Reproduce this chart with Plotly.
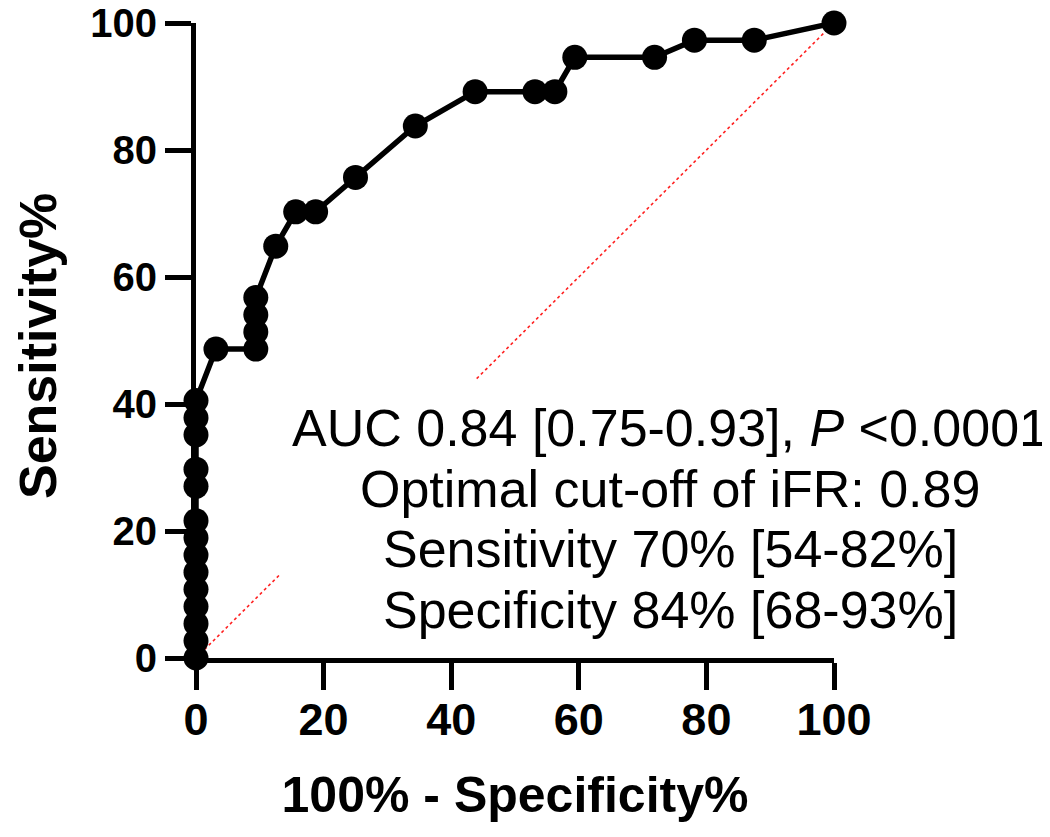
import plotly.graph_objects as go

# ROC curve data (100% - Specificity%, Sensitivity%)
fpr = [0, 0, 0, 0, 0, 0, 0, 0, 0, 0, 0, 0, 0, 0,
       3.125, 9.375, 9.375, 9.375, 9.375, 12.5, 15.625, 18.75, 25.0,
       34.375, 43.75, 53.125, 56.25, 59.375, 71.875, 78.125, 87.5, 100]
tpr = [0, 2.70, 5.41, 8.11, 10.81, 13.51, 16.22, 18.92, 21.62, 27.03, 29.73, 35.14, 37.84, 40.54,
       48.65, 48.65, 51.35, 54.05, 56.76, 64.86, 70.27, 70.27, 75.68,
       83.78, 89.19, 89.19, 89.19, 94.59, 94.59, 97.30, 97.30, 100]

ref_x = [0, 100]
ref_y = [0, 100]

tick_vals = [0, 20, 40, 60, 80, 100]
tick_text = ["0", "20", "40", "60", "80", "100"]

y_title = "Sensitivity%"
x_title = "100% - Specificity%"

stats_lines = [
    "AUC 0.84 [0.75-0.93], <i>P</i> <0.0001",
    "Optimal cut-off of iFR: 0.89",
    "Sensitivity 70% [54-82%]",
    "Specificity 84% [68-93%]",
]

OFF = 8  # page body margin
W, H = 1050, 837
# target plot area in page pixels: x 196..834, y 23..658
L = 196 - OFF
T = 23 - OFF
R = W - (834 - OFF)
B = H - (658 - OFF)
PW = W - L - R
PH = H - T - B


def px_x(p):
    return (p - OFF - L) / PW


def px_y(p):
    return (H - B - (p - OFF)) / PH


fig = go.Figure()
fig.add_trace(go.Scatter(x=ref_x, y=ref_y, mode="lines",
                         line=dict(color="#ff2020", width=1.6, dash="dot"),
                         hoverinfo="skip", showlegend=False, cliponaxis=False))
fig.add_trace(go.Scatter(x=fpr, y=tpr, mode="lines+markers",
                         line=dict(color="black", width=5.5),
                         marker=dict(color="black", size=25),
                         showlegend=False, cliponaxis=False))

# white box behind the statistics text
fig.add_shape(type="rect", xref="paper", yref="paper", layer="above",
              x0=px_x(280), x1=px_x(1058),
              y0=px_y(648), y1=px_y(380),
              fillcolor="white", line=dict(width=0))

centers_px = [428, 489, 549, 610]
for txt, cy in zip(stats_lines, centers_px):
    fig.add_annotation(text=txt, xref="paper", yref="paper",
                       x=px_x(670), y=px_y(cy),
                       xanchor="center", yanchor="middle", showarrow=False,
                       font=dict(family="Liberation Sans", size=52, color="black"))

# y axis title
fig.add_annotation(text=y_title, xref="paper", yref="paper",
                   x=px_x(38), y=px_y(346), textangle=-90,
                   xanchor="center", yanchor="middle", showarrow=False,
                   font=dict(family="Liberation Sans", size=52, color="black", weight="bold"))

fig.update_layout(
    width=W, height=H,
    margin=dict(l=L, r=R, t=T, b=B, autoexpand=False),
    plot_bgcolor="white", paper_bgcolor="white",
)
fig.update_xaxes(range=[0, 100], tickvals=tick_vals, ticktext=tick_text,
                 showgrid=False, zeroline=False, showline=True, linecolor="black", linewidth=5,
                 ticks="outside", ticklen=27, tickwidth=4.5, tickcolor="black",
                 ticklabeloverflow="allow", ticklabelstandoff=-9,
                 tickfont=dict(family="Liberation Sans", size=45, color="black", weight="bold"),
                 title=dict(text=x_title, standoff=34,
                            font=dict(family="Liberation Sans", size=50, color="black", weight="bold")))
fig.update_yaxes(range=[0, 100], tickvals=tick_vals, ticktext=tick_text,
                 showgrid=False, zeroline=False, showline=True, linecolor="black", linewidth=5,
                 ticks="outside", ticklen=26, tickwidth=4.5, tickcolor="black",
                 ticklabeloverflow="allow",
                 tickfont=dict(family="Liberation Sans", size=40, color="black", weight="bold"))

fig.write_html("out.html")
